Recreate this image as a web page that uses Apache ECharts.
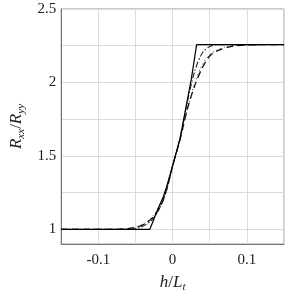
<!DOCTYPE html>
<html>
<head>
<meta charset="utf-8">
<script src="https://cdn.jsdelivr.net/npm/echarts@6/dist/echarts.min.js"></script>
<style>
  html, body { margin: 0; padding: 0; background: #fff; }
  #chart { width: 285px; height: 298px; }
</style>
</head>
<body>
<div id="chart"></div>
<script>
// tick values
var xTicks = [-0.15, -0.1, -0.05, 0, 0.05, 0.1, 0.15];
var xLabels = [-0.1, 0, 0.1];
var yTicks = [1, 1.25, 1.5, 1.75, 2, 2.25, 2.5];
var yLabels = [1, 1.5, 2, 2.5];

// solid curve
var solidX = [-0.15, -0.0306, -0.0189, -0.0126, -0.0084, 0, 0.0101, 0.0252, 0.0324, 0.15];
var solidY = [1, 1, 1.148, 1.22, 1.283, 1.431, 1.619, 2.023, 2.258, 2.258];
// dashed curve
var dashX = [-0.15, -0.08, -0.06, -0.045, -0.035, -0.025, -0.015, -0.008, 0, 0.01, 0.02, 0.03, 0.04, 0.05, 0.06, 0.08, 0.1, 0.15];
var dashY = [1, 1, 1.005, 1.02, 1.045, 1.09, 1.17, 1.27, 1.43, 1.61, 1.82, 1.98, 2.1, 2.18, 2.215, 2.245, 2.255, 2.258];
// dash-dot curve
var dashDotX = [-0.15, -0.06, -0.045, -0.035, -0.025, -0.015, -0.008, 0, 0.01, 0.02, 0.03, 0.04, 0.05, 0.06, 0.15];
var dashDotY = [1, 1, 1.01, 1.035, 1.08, 1.17, 1.27, 1.43, 1.62, 1.87, 2.08, 2.2, 2.245, 2.256, 2.258];
// dotted curve
var dotX = [-0.15, -0.07, -0.05, -0.035, -0.025, -0.015, -0.008, 0, 0.01, 0.02, 0.03, 0.04, 0.05, 0.06, 0.07, 0.09, 0.15];
var dotY = [1, 1, 1.015, 1.05, 1.1, 1.18, 1.27, 1.43, 1.61, 1.82, 2.0, 2.12, 2.19, 2.22, 2.24, 2.255, 2.258];

function zip(xs, ys) {
    return xs.map(function (x, i) { return [x, ys[i]]; });
}

var serif = '"Liberation Serif", "DejaVu Serif", serif';
var gridColor = '#dcdcdc';

var chart = echarts.init(document.getElementById('chart'));
chart.setOption({
    animation: false,
    grid: {
        left: 46, right: 1, top: 9, bottom: 51,
        show: true,
        borderColor: '#999',
        borderWidth: 1
    },
    xAxis: {
        type: 'value',
        min: -0.15, max: 0.15,
        name: '{i|h}{n|/}{i|L}{s|t}',
        nameLocation: 'middle',
        nameGap: 29,
        nameTextStyle: {
            rich: {
                i: { fontFamily: serif, fontStyle: 'italic', fontSize: 17, color: '#222' },
                n: { fontFamily: serif, fontSize: 17, color: '#222' },
                s: { fontFamily: serif, fontStyle: 'italic', fontSize: 11, color: '#222', padding: [9, 0, 0, 0] }
            }
        },
        axisLine: { show: true, onZero: false, lineStyle: { color: '#777' } },
        axisTick: { show: false, customValues: xTicks },
        axisLabel: {
            customValues: xLabels,
            fontFamily: serif, fontSize: 15, color: '#222', margin: 9,
            formatter: function (v) { return String(v); }
        },
        splitLine: { show: true, lineStyle: { color: gridColor, width: 1 } }
    },
    yAxis: {
        type: 'value',
        min: 0.9, max: 2.5,
        name: '{i|R}{s|xx}{n|/}{i|R}{s|yy}',
        nameLocation: 'middle',
        nameGap: 30,
        nameTextStyle: {
            rich: {
                i: { fontFamily: serif, fontStyle: 'italic', fontSize: 17, color: '#222' },
                n: { fontFamily: serif, fontSize: 17, color: '#222' },
                s: { fontFamily: serif, fontStyle: 'italic', fontSize: 11, color: '#222', padding: [9, 0, 0, 0] }
            }
        },
        axisLine: { show: true, onZero: false, lineStyle: { color: '#777' } },
        axisTick: { show: false, customValues: yTicks },
        axisLabel: {
            customValues: yLabels,
            fontFamily: serif, fontSize: 15, color: '#222', margin: 5,
            formatter: function (v) { return String(v); }
        },
        splitLine: { show: true, lineStyle: { color: gridColor, width: 1 } }
    },
    series: [
        {
            type: 'line', data: zip(dotX, dotY), showSymbol: false, smooth: 0.3,
            lineStyle: { color: '#333', width: 1, type: [1, 3] }
        },
        {
            type: 'line', data: zip(dashDotX, dashDotY), showSymbol: false, smooth: 0.3,
            lineStyle: { color: '#222', width: 1.1, type: [6, 2, 1.5, 2] }
        },
        {
            type: 'line', data: zip(dashX, dashY), showSymbol: false, smooth: 0.3,
            lineStyle: { color: '#111', width: 1.3, type: [7, 4] }
        },
        {
            type: 'line', data: zip(solidX, solidY), showSymbol: false,
            lineStyle: { color: '#000', width: 1.2, type: 'solid' }
        }
    ]
});
</script>
</body>
</html>
